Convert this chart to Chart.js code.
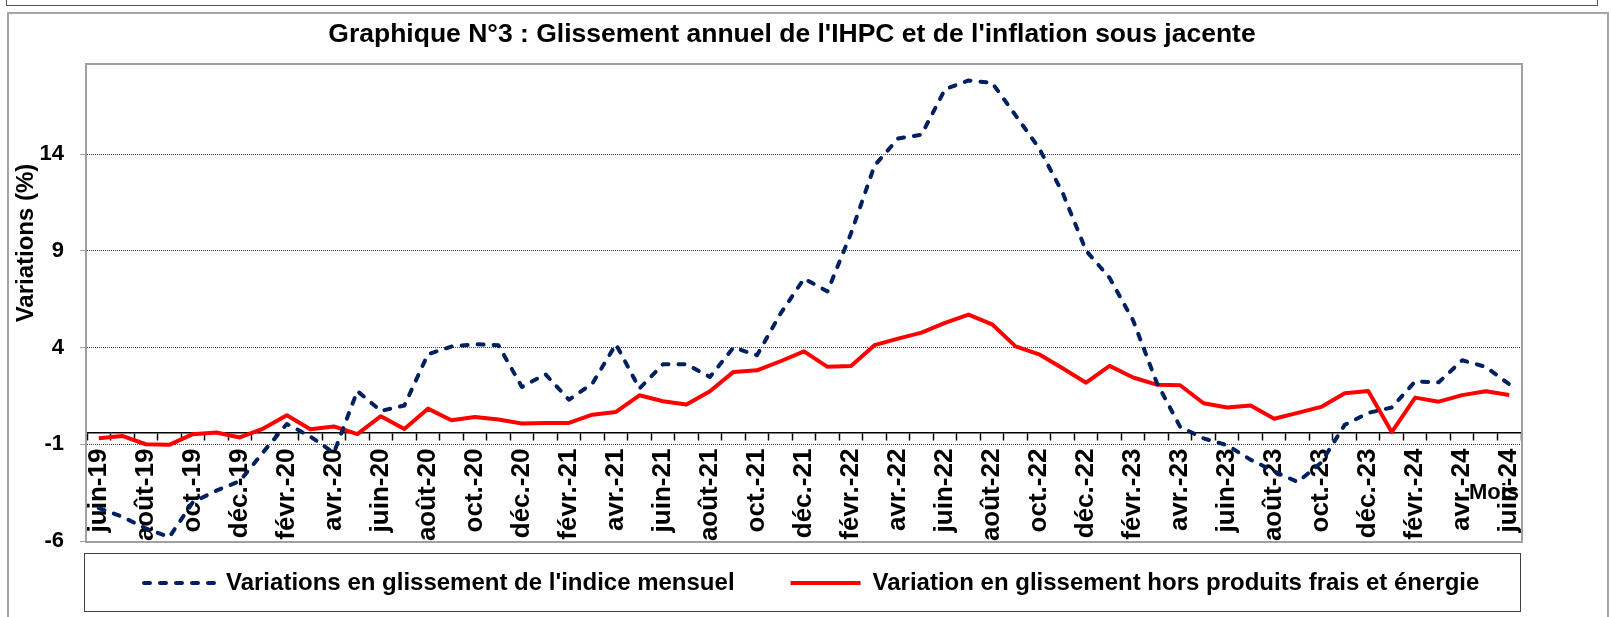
<!DOCTYPE html>
<html lang="fr">
<head>
<meta charset="utf-8">
<title>Graphique N°3</title>
<script src="https://cdn.jsdelivr.net/npm/chart.js@4.4.1/dist/chart.umd.min.js"></script>
<style>
    html, body { margin: 0; padding: 0; background: #fff; }
    body { width: 1611px; height: 617px; position: relative; overflow: hidden; }
    #topBox { position: absolute; left: 6px; top: -10px; width: 1590px; height: 14px; border: 1px solid #555; }
    #frame { position: absolute; left: 7px; top: 12px; width: 1598px; height: 620px; border: 2px solid #a6a6a6; }
    #chart { position: absolute; left: 0; top: 0; }
</style>
</head>
<body>
<div id="topBox"></div>
<div id="frame"></div>
<canvas id="chart" width="1611" height="617"></canvas>
<script>
// Months, juin-19 .. juin-24
const months = [
    'juin-19', 'juil.-19', 'août-19', 'sept.-19', 'oct.-19', 'nov.-19', 'déc.-19',
    'janv.-20', 'févr.-20', 'mars-20', 'avr.-20', 'mai-20', 'juin-20', 'juil.-20', 'août-20', 'sept.-20', 'oct.-20', 'nov.-20', 'déc.-20',
    'janv.-21', 'févr.-21', 'mars-21', 'avr.-21', 'mai-21', 'juin-21', 'juil.-21', 'août-21', 'sept.-21', 'oct.-21', 'nov.-21', 'déc.-21',
    'janv.-22', 'févr.-22', 'mars-22', 'avr.-22', 'mai-22', 'juin-22', 'juil.-22', 'août-22', 'sept.-22', 'oct.-22', 'nov.-22', 'déc.-22',
    'janv.-23', 'févr.-23', 'mars-23', 'avr.-23', 'mai-23', 'juin-23', 'juil.-23', 'août-23', 'sept.-23', 'oct.-23', 'nov.-23', 'déc.-23',
    'janv.-24', 'févr.-24', 'mars-24', 'avr.-24', 'mai-24', 'juin-24'
];

// Variations en glissement de l'indice mensuel (%)
const ihpc = [
    -4.3, -4.75, -5.35, -5.8, -4.0, -3.4, -2.9,
    -1.4, 0.05, -0.6, -1.45, 1.75, 0.72, 1.0, 3.65, 4.05, 4.17, 4.12, 1.96,
    2.62, 1.3, 2.14, 4.17, 1.88, 3.13, 3.13, 2.48, 4.0, 3.6, 5.75, 7.56,
    6.9, 9.9, 13.4, 14.8, 15.0, 17.35, 17.8, 17.68, 16.0, 14.3, 12.0, 9.0,
    7.6, 5.4, 2.2, -0.1, -0.7, -1.05, -1.8, -2.4, -2.95, -1.95, 0.0, 0.62,
    0.9, 2.25, 2.2, 3.34, 3.0, 2.1
];

// Variation en glissement hors produits frais et énergie (%)
const core = [
    -0.69, -0.57, -1.0, -1.03, -0.48, -0.39, -0.65,
    -0.19, 0.5, -0.22, -0.08, -0.48, 0.45, -0.21, 0.84, 0.24, 0.41, 0.28, 0.07,
    0.1, 0.1, 0.53, 0.67, 1.53, 1.22, 1.05, 1.74, 2.74, 2.82, 3.29, 3.8,
    3.0, 3.05, 4.12, 4.46, 4.77, 5.27, 5.7, 5.2, 4.06, 3.65, 2.93, 2.18,
    3.05, 2.45, 2.08, 2.05, 1.12, 0.9, 1.0, 0.32, 0.62, 0.93, 1.64, 1.75,
    -0.37, 1.41, 1.2, 1.54, 1.74, 1.55
];

const yTicks = [-6, -1, 4, 9, 14];
const yMin = -6;
const yMax = 18.6;
const xAxisCross = -0.4;

const FONT = '"Liberation Sans", Arial, sans-serif';
Chart.defaults.font.family = FONT;
Chart.defaults.color = '#000';

// Title, axis titles, plot and legend frames
const decorations = {
    id: 'decorations',
    afterLayout(chart) {
        // legend sits in a framed box just under the plot
        const lg = chart.legend;
        const a = chart.chartArea;
        lg.left = a.left + 1;
        lg.right = lg.left + lg.width;
        lg.top = a.bottom - 26;
        lg.bottom = lg.top + lg.height;
    },
    beforeDatasetsDraw(chart) {
        const { ctx, chartArea: a } = chart;
        ctx.save();
        ctx.strokeStyle = '#a0a0a0';
        ctx.lineWidth = 2;
        ctx.strokeRect(a.left - 1, a.top - 1, a.right - a.left + 2, a.bottom - a.top + 2);
        ctx.restore();
    },
    afterDraw(chart) {
        const { ctx, chartArea: a } = chart;
        const yScale = chart.scales.y;
        ctx.save();
        ctx.fillStyle = '#000';

        ctx.font = 'bold 26.5px ' + FONT;
        ctx.textAlign = 'center';
        ctx.textBaseline = 'alphabetic';
        ctx.fillText("Graphique N°3 : Glissement annuel de l'IHPC et de l'inflation sous jacente",
            (a.left + a.right) / 2 - 12, 42);

        ctx.font = 'bold 22px ' + FONT;
        ctx.textAlign = 'right';
        ctx.fillText('Mois', a.right - 2, yScale.getPixelForValue(-3.85));

        ctx.save();
        ctx.translate(26, (a.top + a.bottom) / 2 - 60);
        ctx.rotate(-Math.PI / 2);
        ctx.font = 'bold 24px ' + FONT;
        ctx.textAlign = 'center';
        ctx.textBaseline = 'middle';
        ctx.fillText('Variations (%)', 0, 0);
        ctx.restore();

        ctx.strokeStyle = '#404040';
        ctx.lineWidth = 1;
        ctx.strokeRect(a.left - 2.5, a.bottom + 12.5, a.right - a.left + 2, 58);
        ctx.restore();
    }
};

new Chart(document.getElementById('chart').getContext('2d'), {
    type: 'line',
    data: {
        labels: months,
        datasets: [
            {
                label: "Variations en glissement de l'indice mensuel",
                data: ihpc,
                borderColor: '#002060',
                backgroundColor: '#002060',
                borderWidth: 4,
                borderDash: [6, 10],
                borderCapStyle: 'round',
                borderJoinStyle: 'round',
                pointRadius: 0,
                tension: 0
            },
            {
                label: 'Variation en glissement hors produits frais et énergie',
                data: core,
                borderColor: '#ff0000',
                backgroundColor: '#ff0000',
                borderWidth: 4,
                borderJoinStyle: 'round',
                pointRadius: 0,
                tension: 0
            }
        ]
    },
    options: {
        responsive: false,
        animation: false,
        devicePixelRatio: 1,
        layout: { padding: { left: 0, right: 90, top: 65, bottom: -14 } },
        plugins: {
            title: { display: false },
            tooltip: { enabled: false },
            legend: {
                position: 'bottom',
                align: 'start',
                labels: {
                    usePointStyle: true,
                    pointStyle: 'line',
                    pointStyleWidth: 70,
                    padding: 56,
                    color: '#000',
                    font: { size: 24, weight: 'bold' },
                    generateLabels: (chart) => {
                        const items = Chart.defaults.plugins.legend.labels.generateLabels(chart);
                        return items.map(item => {
                            const ds = chart.data.datasets[item.datasetIndex];
                            return Object.assign(item, {
                                strokeStyle: ds.borderColor,
                                lineWidth: ds.borderWidth,
                                lineDash: ds.borderDash || [],
                                lineCap: ds.borderCapStyle || 'butt'
                            });
                        });
                    }
                }
            }
        },
        scales: {
            x: {
                position: { y: xAxisCross },
                offset: true,
                afterFit: (scale) => { scale.height = 0; },
                border: { display: true, color: '#000', width: 1.5 },
                grid: { display: true, drawOnChartArea: false, offset: true, tickLength: 7, tickColor: '#000', tickWidth: 1.5 },
                ticks: {
                    autoSkip: false,
                    minRotation: 90,
                    maxRotation: 90,
                    padding: 9,
                    color: '#000',
                    font: { size: 26, weight: 'bold' },
                    callback: (value, index) => (index % 2 === 0 ? months[index] : '')
                }
            },
            y: {
                min: yMin,
                max: yMax,
                afterBuildTicks: (scale) => { scale.ticks = yTicks.map(v => ({ value: v })); },
                afterFit: (scale) => { scale.width = 87; },
                border: { display: false, dash: [1, 1] },
                grid: { color: '#404040', lineWidth: 1, tickColor: '#a0a0a0', tickLength: 7, tickBorderDash: [] },
                ticks: { padding: 16, color: '#000', font: { size: 22, weight: 'bold' } }
            }
        }
    },
    plugins: [decorations]
});
</script>
</body>
</html>
